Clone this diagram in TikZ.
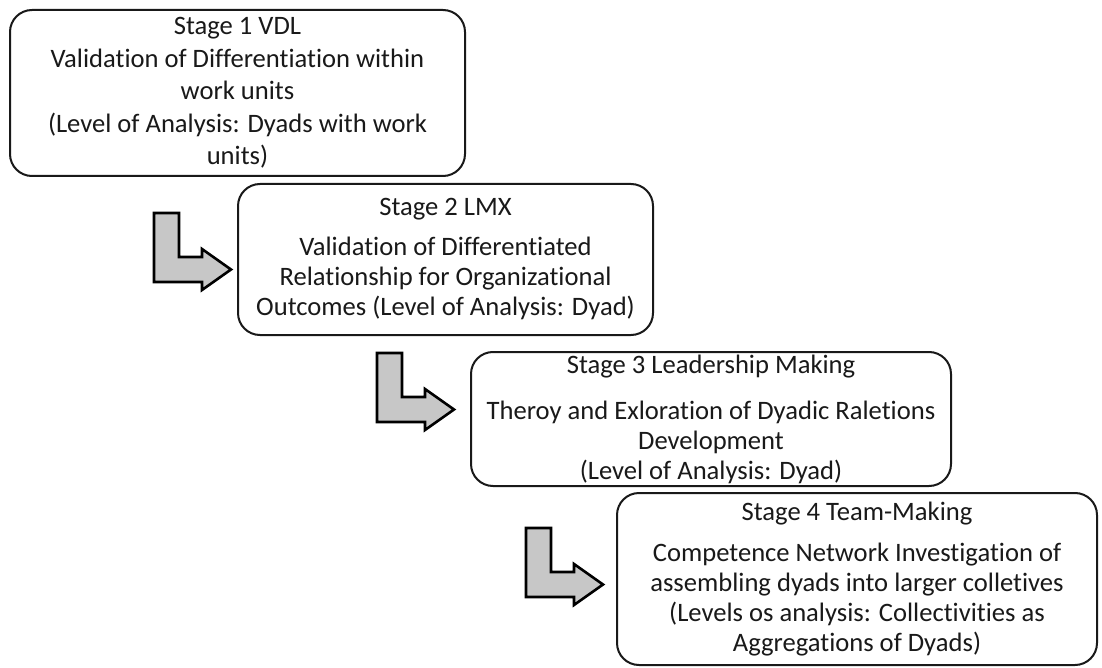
\documentclass[tikz,border=0pt]{standalone}
\usepackage{fontspec}
\setmainfont[Ligatures=NoCommon]{Carlito}
\usepackage{tikz}
\usetikzlibrary{positioning}

\begin{document}
\begin{tikzpicture}[
  x=0.5pt, y=-0.5pt,
  stage/.style={
    rectangle,
    draw=black!90,
    line width=1pt,
    rounded corners=11pt,
    fill=white,
    inner sep=0pt,
    align=center,
    text=black!90,
    font=\fontsize{13.3}{15}\selectfont
  },
  turnarrow/.style={
    draw=black,
    fill=black!22,
    line width=1.3pt,
    line join=miter
  },
  bentarrow/.pic={
    \path[turnarrow] (0,0) -- (25,0) -- (25,44) -- (48,44) -- (48,36)
      -- (77,56.5) -- (48,77) -- (48,69) -- (0,69) -- cycle;
  }
]
\useasboundingbox (0,0) rectangle (1102,668);

% Stage boxes
\node[stage, minimum width=227.5pt, minimum height=83pt,
  font=\fontsize{13.3}{16.2}\selectfont] (vdl) at (237.5,93)
  {Stage 1 VDL\\Validation of Differentiation within\\work units\\(Level of Analysis: Dyads with work\\units)};
\node[stage, minimum width=207.5pt, minimum height=75.5pt] (lmx) at (445.5,259.5)
  {Stage 2 LMX\\[5pt]Validation of Differentiated\\Relationship for Organizational\\Outcomes (Level of Analysis: Dyad)};
\node[stage, minimum width=240pt, minimum height=67pt] (lead) at (711,419)
  {Stage 3 Leadership Making\\[8pt]Theroy and Exloration of Dyadic Raletions\\Development\\(Level of Analysis: Dyad)};
\node[stage, minimum width=240pt, minimum height=86pt] (team) at (857,579)
  {Stage 4 Team-Making\\[5.5pt]Competence Network Investigation of\\assembling dyads into larger colletives\\(Levels os analysis: Collectivities as\\Aggregations of Dyads)};

% Bent arrows between stages
\pic (arr1) at (154,213) {bentarrow};
\pic (arr2) at (377,353) {bentarrow};
\pic (arr3) at (526,528) {bentarrow};
\end{tikzpicture}
\end{document}
